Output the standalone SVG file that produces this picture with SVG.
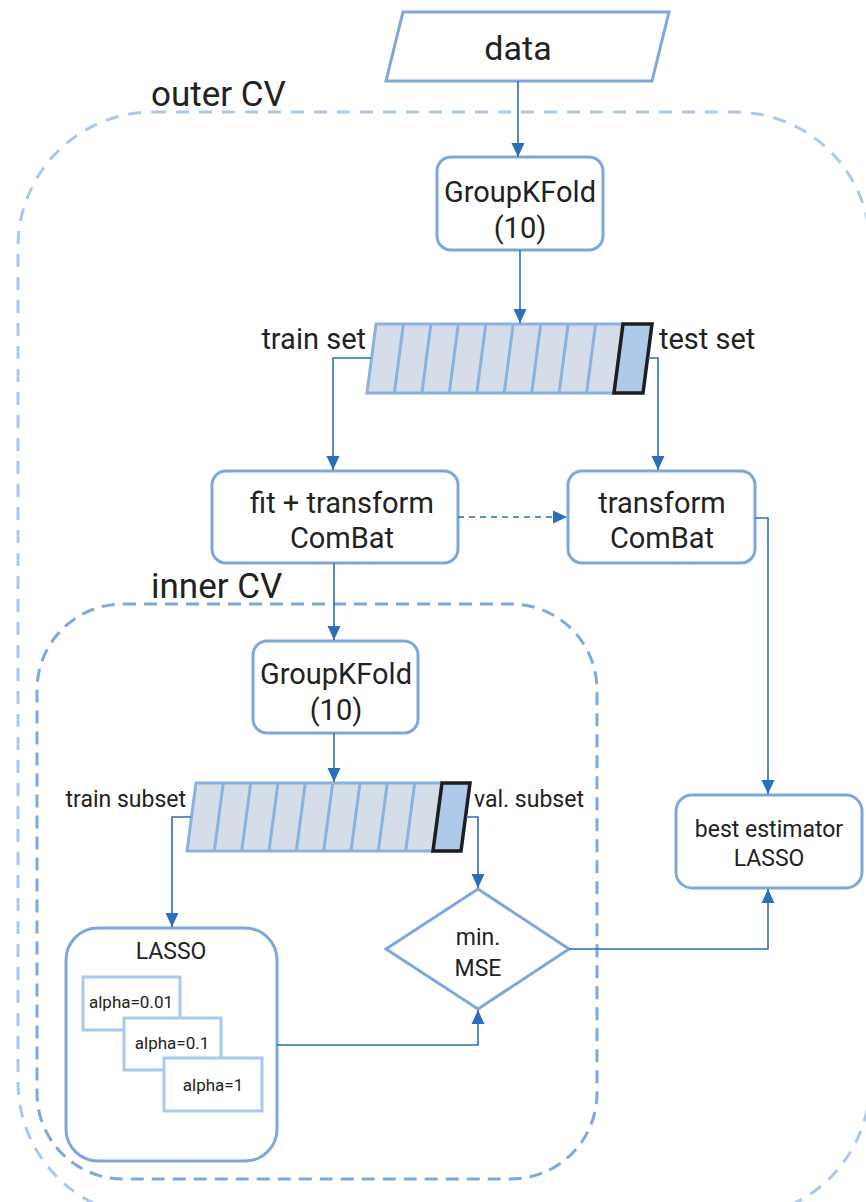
<svg xmlns="http://www.w3.org/2000/svg" width="866" height="1202" viewBox="0 0 866 1202">
<defs>
<marker id="ah" markerUnits="userSpaceOnUse" markerWidth="16" markerHeight="16" viewBox="0 0 16 16" refX="15" refY="8" orient="auto">
<path d="M1,1.5 L15,8 L1,14.5 Z" fill="#2b6eba"/>
</marker>
<style>
.node{fill:#fff;stroke:#7ea7dc;stroke-width:3}
.alpha{fill:#fff;stroke:#aac9ee;stroke-width:3}
.t{font-family:Roboto,"Liberation Sans",sans-serif;fill:#222;text-anchor:middle}
.lbl{font-family:Roboto,"Liberation Sans",sans-serif;fill:#222}
.c{fill:none;stroke:#2b6eba;stroke-width:1.6}
.train{fill:#d5dee8;stroke:#8ab1e0;stroke-width:3;stroke-linejoin:miter}
.div{stroke:#8ab1e0;stroke-width:3}
.test{fill:#aec9ea;stroke:#1e1e1e;stroke-width:3.5}
</style>
</defs>
<rect fill="#fff" width="866" height="1202"/>

<g id="outer-cv">
<rect x="18" y="112" width="852" height="1105" rx="135" fill="none" stroke="#abc7ec" stroke-width="3" stroke-dasharray="13 10"/>
<text class="lbl" x="151" y="106" font-size="35">outer CV</text>
</g>
<g id="inner-cv">
<rect x="37" y="604" width="560" height="575" rx="86" fill="none" stroke="#7fa8dc" stroke-width="3" stroke-dasharray="13 8"/>
<text class="lbl" x="151" y="598" font-size="35">inner CV</text>
</g>

<g id="data">
<polygon class="node" points="403,12 669,12 652,81 386,81"/>
<text class="t" x="518" y="60" font-size="34">data</text>
</g>

<g id="groupkfold-outer">
<rect class="node" x="437" y="157" width="166" height="93" rx="14"/>
<text class="t" x="520" y="202" font-size="29">GroupKFold</text>
<text class="t" x="520" y="238" font-size="29">(10)</text>
</g>

<g id="outer-split">
<polygon class="train" points="376,324 623,324 614,393 367,393"/>
<line class="div" x1="403.4" y1="324" x2="394.4" y2="393"/>
<line class="div" x1="430.9" y1="324" x2="421.9" y2="393"/>
<line class="div" x1="458.3" y1="324" x2="449.3" y2="393"/>
<line class="div" x1="485.8" y1="324" x2="476.8" y2="393"/>
<line class="div" x1="513.2" y1="324" x2="504.2" y2="393"/>
<line class="div" x1="540.7" y1="324" x2="531.7" y2="393"/>
<line class="div" x1="568.1" y1="324" x2="559.1" y2="393"/>
<line class="div" x1="595.6" y1="324" x2="586.6" y2="393"/>
<polygon class="test" points="623,324 652,324 643,393 614,393"/>
<text class="lbl" x="366" y="349" font-size="29" text-anchor="end">train set</text>
<text class="lbl" x="659" y="349" font-size="29">test set</text>
</g>

<g id="fit-transform">
<rect class="node" x="212" y="471" width="246" height="92" rx="14"/>
<text class="t" x="342" y="513" font-size="29">fit + transform</text>
<text class="t" x="342" y="548" font-size="29">ComBat</text>
</g>

<g id="transform">
<rect class="node" x="568" y="471" width="187" height="92" rx="14"/>
<text class="t" x="662" y="513" font-size="29">transform</text>
<text class="t" x="662" y="548" font-size="29">ComBat</text>
</g>

<g id="groupkfold-inner">
<rect class="node" x="253" y="641" width="165" height="92" rx="14"/>
<text class="t" x="336" y="684" font-size="29">GroupKFold</text>
<text class="t" x="336" y="720" font-size="29">(10)</text>
</g>

<g id="inner-split">
<polygon class="train" points="196,783 442,783 433,851 187,851"/>
<line class="div" x1="223.3" y1="783" x2="214.3" y2="851"/>
<line class="div" x1="250.7" y1="783" x2="241.7" y2="851"/>
<line class="div" x1="278" y1="783" x2="269" y2="851"/>
<line class="div" x1="305.3" y1="783" x2="296.3" y2="851"/>
<line class="div" x1="332.7" y1="783" x2="323.7" y2="851"/>
<line class="div" x1="360" y1="783" x2="351" y2="851"/>
<line class="div" x1="387.3" y1="783" x2="378.3" y2="851"/>
<line class="div" x1="414.7" y1="783" x2="405.7" y2="851"/>
<polygon class="test" points="442,783 470,783 461,851 433,851"/>
<text class="lbl" x="186" y="807" font-size="23" text-anchor="end">train subset</text>
<text class="lbl" x="474" y="807" font-size="23">val. subset</text>
</g>

<g id="lasso">
<rect class="node" x="66" y="928" width="211" height="233" rx="32"/>
<text class="t" x="171" y="959" font-size="23">LASSO</text>
<rect class="alpha" x="83" y="977" width="97" height="53"/>
<text class="t" x="131" y="1008" font-size="17">alpha=0.01</text>
<rect class="alpha" x="124" y="1018" width="97" height="52"/>
<text class="t" x="172" y="1049" font-size="17">alpha=0.1</text>
<rect class="alpha" x="164" y="1058" width="98" height="53"/>
<text class="t" x="213" y="1091" font-size="17">alpha=1</text>
</g>

<g id="min-mse">
<polygon class="node" points="478,889 569,949 478,1009 386,949"/>
<text class="t" x="478" y="945" font-size="23">min.</text>
<text class="t" x="478" y="976" font-size="23">MSE</text>
</g>

<g id="best-estimator">
<rect class="node" x="676" y="795" width="186" height="93" rx="16"/>
<text class="t" x="769" y="837" font-size="23">best estimator</text>
<text class="t" x="769" y="866" font-size="23">LASSO</text>
</g>

<g id="connectors">
<path class="c" d="M518,81 V157" marker-end="url(#ah)"/>
<path class="c" d="M520,250 V323" marker-end="url(#ah)"/>
<path class="c" d="M371,358 H333 V470" marker-end="url(#ah)"/>
<path class="c" d="M648,358 H658 V470" marker-end="url(#ah)"/>
<path class="c" d="M458,517 H567" stroke-dasharray="6 5" marker-end="url(#ah)"/>
<path class="c" d="M755,518 H768 V794" marker-end="url(#ah)"/>
<path class="c" d="M334,563 V640" marker-end="url(#ah)"/>
<path class="c" d="M334,733 V782" marker-end="url(#ah)"/>
<path class="c" d="M191,817 H172 V927" marker-end="url(#ah)"/>
<path class="c" d="M466,817 H478 V888" marker-end="url(#ah)"/>
<path class="c" d="M277,1045 H478 V1010" marker-end="url(#ah)"/>
<path class="c" d="M569,949 H768 V889" marker-end="url(#ah)"/>
</g>
</svg>
